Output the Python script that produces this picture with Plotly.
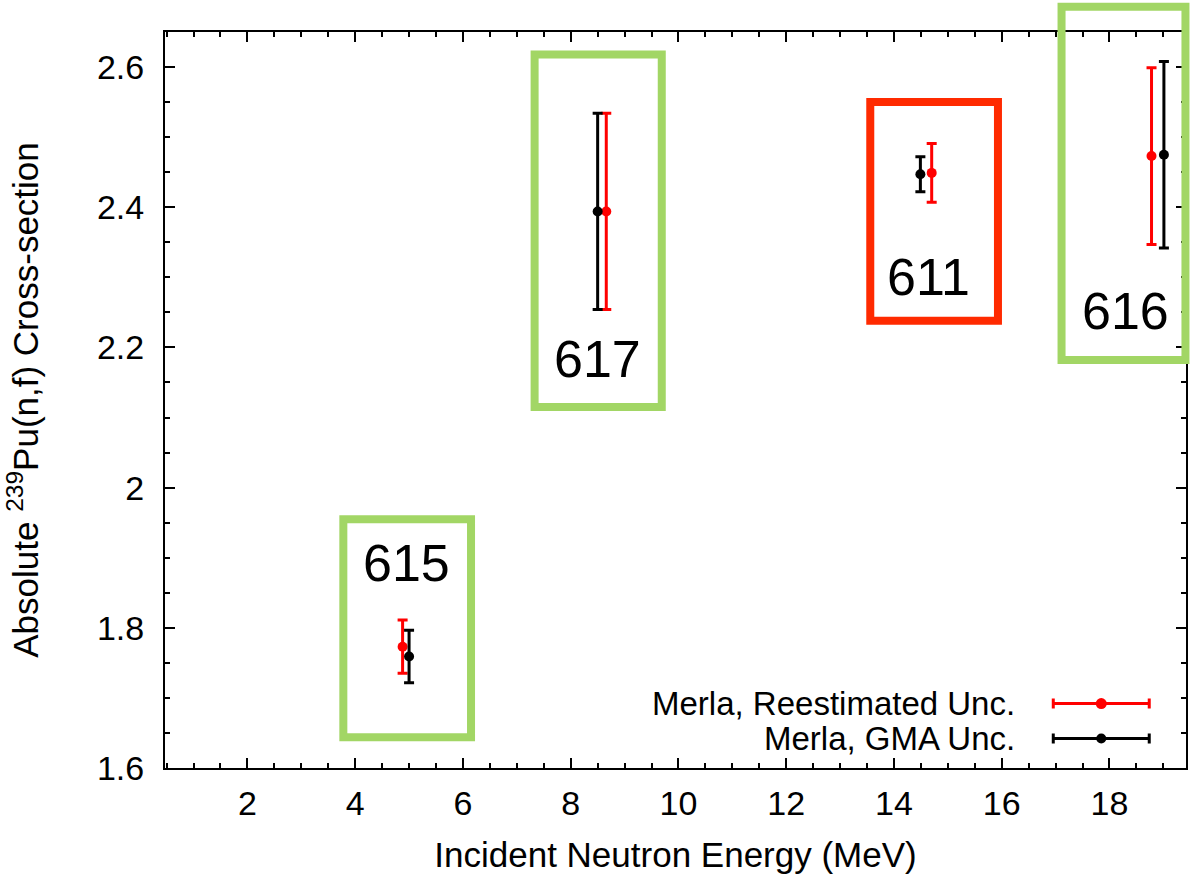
import plotly.graph_objects as go

# ---- data ----
reest_energy = [4.88, 8.66, 14.70, 18.78]
reest_xs = [1.773, 2.394, 2.449, 2.473]
reest_unc = [0.038, 0.140, 0.042, 0.126]

gma_energy = [5.00, 8.50, 14.49, 19.01]
gma_xs = [1.759, 2.394, 2.447, 2.475]
gma_unc = [0.0375, 0.140, 0.025, 0.133]

box_labels = ["615", "617", "611", "616"]
box_label_x = [4.95, 8.50, 14.64, 18.29]
box_label_y = [1.892, 2.184, 2.301, 2.252]

series_names = ["Merla, Reestimated Unc.", "Merla, GMA Unc."]

# ---- layout constants ----
XR = [0.47, 19.42]
YR = [1.6, 2.65]
FONT = "Liberation Sans, Arial, Helvetica, sans-serif"
GREEN = "#a2d665"
REDBOX = "#ff2a00"

# box corners (line centres) in data units: x0, x1, y0, y1, colour
boxes = [
    (3.78, 6.15, 1.644, 1.955, GREEN),
    (7.33, 9.69, 2.115, 2.618, GREEN),
    (13.56, 15.93, 2.238, 2.550, REDBOX),
    (17.11, 19.41, 2.182, 2.686, GREEN),
]


def fx(v):
    return (v - XR[0]) / (XR[1] - XR[0])


def fy(v):
    return (v - YR[0]) / (YR[1] - YR[0])


fig = go.Figure()

fig.add_trace(go.Scatter(
    x=reest_energy, y=reest_xs, mode="markers", name=series_names[0],
    marker=dict(color="#ff0000", size=10),
    error_y=dict(type="data", array=reest_unc, color="#ff0000", thickness=3, width=5),
    showlegend=False,
))
fig.add_trace(go.Scatter(
    x=gma_energy, y=gma_xs, mode="markers", name=series_names[1],
    marker=dict(color="#000000", size=10),
    error_y=dict(type="data", array=gma_unc, color="#000000", thickness=3, width=5),
    showlegend=False,
))

# legend samples on an overlay unit axis
leg_y = [0.0876, 0.040]
leg_col = ["#ff0000", "#000000"]
leg_size = [11, 10]
for i in range(2):
    fig.add_trace(go.Scatter(
        x=[0.917], y=[leg_y[i]], xaxis="x2", yaxis="y2", mode="markers",
        marker=dict(color=leg_col[i], size=leg_size[i]),
        error_x=dict(type="data", array=[0.047], color=leg_col[i], thickness=3, width=5),
        showlegend=False, hoverinfo="skip",
    ))
    fig.add_annotation(
        x=0.834, y=leg_y[i], xref="x domain", yref="y domain",
        text=series_names[i], showarrow=False, xanchor="right", yanchor="middle",
        font=dict(family=FONT, size=33, color="black"),
    )

for (x0, x1, y0, y1, c) in boxes:
    fig.add_shape(
        type="rect", xref="x domain", yref="y domain",
        x0=fx(x0), x1=fx(x1), y0=fy(y0), y1=fy(y1),
        line=dict(color=c, width=8), fillcolor="rgba(0,0,0,0)", layer="above",
    )

for t, xv, yv in zip(box_labels, box_label_x, box_label_y):
    fig.add_annotation(
        x=xv, y=yv, xref="x", yref="y", text=t, showarrow=False,
        xanchor="center", yanchor="middle",
        font=dict(family=FONT, size=52, color="black"),
    )

axis_common = dict(
    showline=True, linecolor="black", linewidth=2, mirror="allticks",
    ticks="inside", ticklen=10, tickwidth=1.5, tickcolor="black",
    showgrid=False, zeroline=False,
    tickfont=dict(family=FONT, size=34, color="black"),
)

fig.update_layout(
    width=1192, height=880,
    margin=dict(l=165, r=4, t=32, b=112),
    paper_bgcolor="white", plot_bgcolor="white",
    font=dict(family=FONT, color="black"),
    xaxis=dict(
        range=XR, tick0=0, dtick=2, **axis_common,
        minor=dict(ticks="inside", ticklen=5, tick0=0, dtick=0.5, tickcolor="black", tickwidth=1.5),
        title=dict(text="Incident Neutron Energy (MeV)", font=dict(family=FONT, size=35), standoff=22),
        ticklabelstandoff=4,
    ),
    yaxis=dict(
        range=YR, tick0=1.6, dtick=0.2, **axis_common,
        minor=dict(ticks="inside", ticklen=5, tick0=1.6, dtick=0.05, tickcolor="black", tickwidth=1.5),
        title=dict(text="Absolute <sup>239</sup>Pu(n,f) Cross-section", font=dict(family=FONT, size=35), standoff=48),
        ticklabelstandoff=12,
    ),
    xaxis2=dict(range=[0, 1], overlaying="x", visible=False, fixedrange=True),
    yaxis2=dict(range=[0, 1], overlaying="y", visible=False, fixedrange=True),
)

fig.write_html(
    "out.html",
    config={"displayModeBar": False},
    post_script="document.body.style.margin='0';document.body.style.overflow='hidden';",
)
